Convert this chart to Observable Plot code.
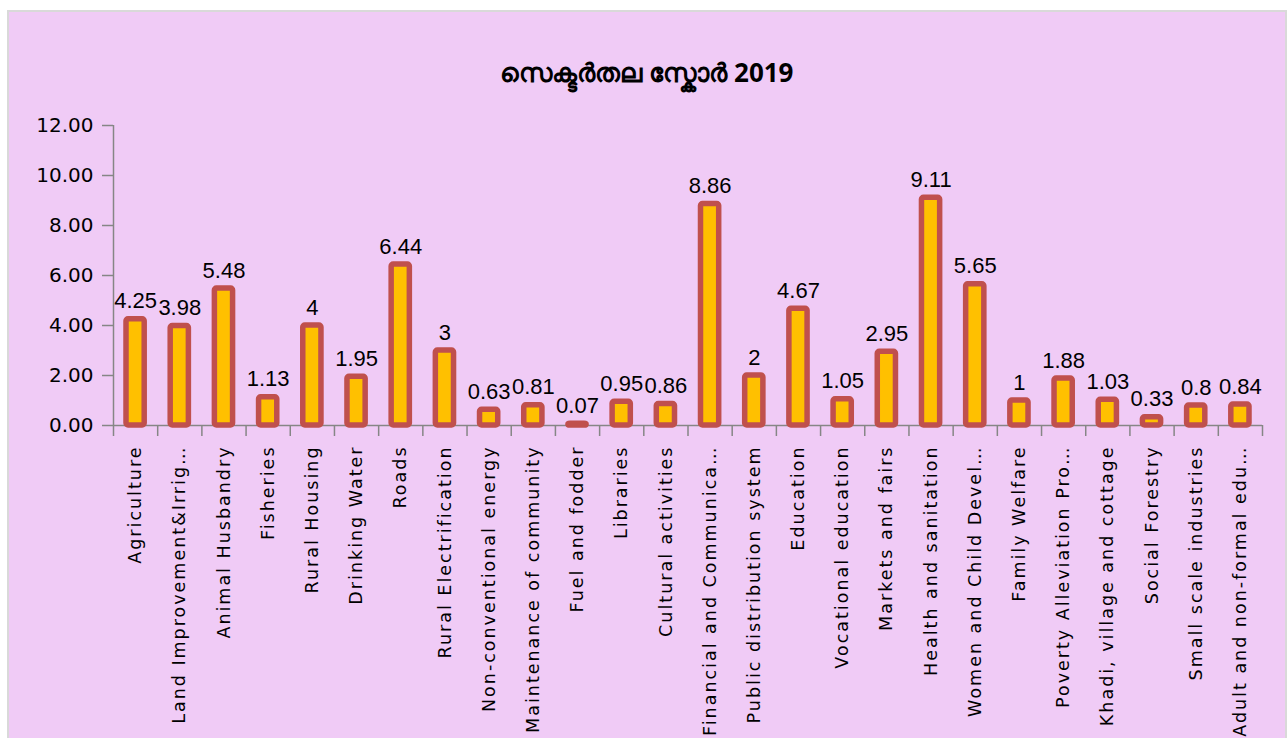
<!DOCTYPE html>
<html>
<head>
<meta charset="utf-8">
<script src="https://cdn.jsdelivr.net/npm/d3@7"></script>
<script src="https://cdn.jsdelivr.net/npm/@observablehq/plot@0.6"></script>
<style>
  html, body { margin: 0; padding: 0; background: #ffffff; overflow: hidden; }
  #frame {
    position: absolute; left: 7px; top: 10px; width: 1276px; height: 760px;
    background: #f0cbf6; border: 2px solid #d9d9d9;
  }
  #title {
    padding-top: 44px; height: 32px; line-height: 32px; text-align: center;
    font-family: "Noto Sans", "DejaVu Sans", sans-serif; font-weight: bold; font-size: 26px; color: #000;
  }
  #chart .xlab text { letter-spacing: 2px; }
</style>
</head>
<body>
<div id="frame">
  <div id="title">സെക്ടർതല സ്കോർ 2019</div>
  <div id="chart"></div>
</div>
<script>
const categories = [
  "Agriculture", "Land Improvement&Irrig…", "Animal Husbandry", "Fisheries", "Rural Housing",
  "Drinking Water", "Roads", "Rural Electrification", "Non-conventional energy",
  "Maintenance of community", "Fuel and fodder", "Libraries", "Cultural activities",
  "Financial and Communica…", "Public distribution system", "Education", "Vocational education",
  "Markets and fairs", "Health and sanitation", "Women and Child Devel…", "Family Welfare",
  "Poverty Alleviation Pro…", "Khadi, village and cottage", "Social Forestry",
  "Small scale industries", "Adult and non-formal edu…"
];
const scores = [
  4.25, 3.98, 5.48, 1.13, 4, 1.95, 6.44, 3, 0.63, 0.81, 0.07, 0.95, 0.86,
  8.86, 2, 4.67, 1.05, 2.95, 9.11, 5.65, 1, 1.88, 1.03, 0.33, 0.8, 0.84
];
const yTicks = [0, 2, 4, 6, 8, 10, 12];

const data = categories.map((c, i) => ({i, c, v: scores[i], label: String(scores[i])}));
const n = categories.length;

const chart = Plot.plot({
  width: 1276,
  height: 680,
  marginTop: 37,
  marginBottom: 343,
  marginLeft: 104,
  marginRight: 23,
  style: {background: "transparent", fontFamily: "DejaVu Sans, sans-serif", color: "#000", overflow: "visible"},
  x: {domain: [0, n], axis: null},
  y: {domain: [0, 12], axis: null},
  marks: [
    Plot.ruleX([0], {stroke: "#868686", strokeWidth: 1.5}),
    Plot.ruleY([0], {stroke: "#868686", strokeWidth: 1.5}),
    Plot.axisY({ticks: yTicks, tickFormat: d3.format(".2f"), label: null, tickSize: 11, tickPadding: 9, fontSize: 20, stroke: "#868686", strokeWidth: 1.5}),
    Plot.axisX({ticks: d3.range(n + 1), tickFormat: () => "", label: null, tickSize: 11, stroke: "#868686", strokeWidth: 1.5}),
    Plot.axisX({ticks: d3.range(n).map(i => i + 0.5), tickFormat: x => categories[Math.floor(x)], label: null, tickSize: 0, tickPadding: 20, tickRotate: -90, fontSize: 17.5, className: "xlab"}),
    Plot.rectY(data, {x1: d => d.i, x2: d => d.i + 1, y1: 0, y2: "v", insetLeft: 13, insetRight: 13, fill: "#ffc000", stroke: "#c0504d", strokeWidth: 5.5, rx: 2}),
    Plot.text(data, {x: d => d.i + 0.5, y: "v", text: "label", dy: -11, lineAnchor: "bottom", fontSize: 22, fontFamily: "Liberation Sans, Arial, sans-serif", fill: "#000"})
  ]
});
document.getElementById("chart").appendChild(chart);
</script>
</body>
</html>
